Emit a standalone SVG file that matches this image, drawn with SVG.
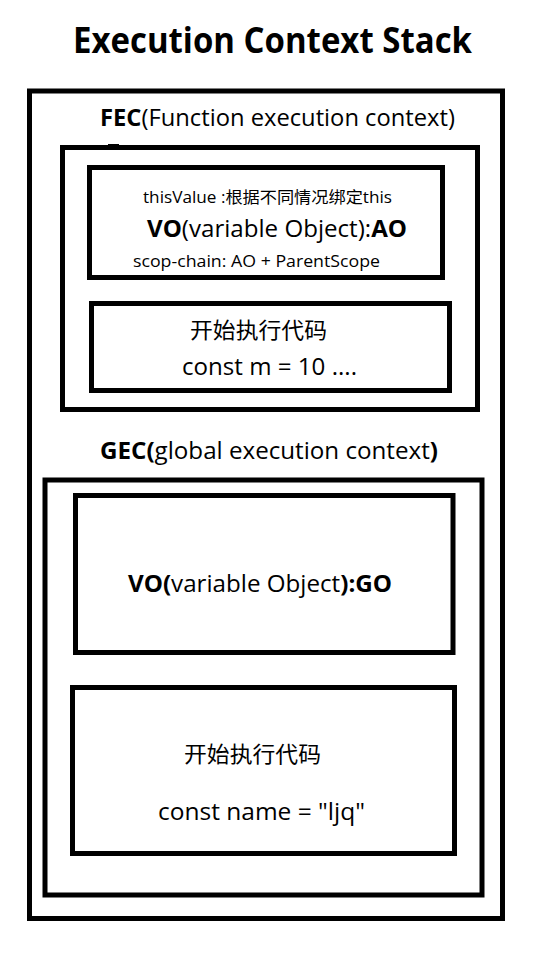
<svg xmlns="http://www.w3.org/2000/svg" width="553" height="962" viewBox="0 0 553 962">
<style>
.box{fill:none;stroke:#000;stroke-width:5}
.t{font-family:"Open Sans","Noto Sans CJK SC",sans-serif;fill:#000}
.b{font-weight:bold}
</style>
<rect width="553" height="962" fill="#fff"/>
<text class="t b" x="73" y="53" font-size="35" textLength="399" lengthAdjust="spacingAndGlyphs">Execution Context Stack</text>
<g id="stack">
<rect class="box" x="29.5" y="91" width="473" height="827.5"/>
</g>
<g id="fec">
<rect class="box" x="62.5" y="147.5" width="415" height="262"/>
<rect x="108" y="144" width="11" height="1" fill="#000"/>
<text class="t" x="100" y="126" font-size="23.5" textLength="355" lengthAdjust="spacingAndGlyphs"><tspan class="b">FEC</tspan>(Function execution context)</text>
</g>
<g id="fec-vo">
<rect class="box" x="89.5" y="167.5" width="353" height="110"/>
<text class="t" x="143" y="203" font-size="16" textLength="249" lengthAdjust="spacingAndGlyphs">thisValue :根据不同情况绑定this</text>
<text class="t" x="147" y="237" font-size="23.5" textLength="260" lengthAdjust="spacingAndGlyphs"><tspan class="b">VO</tspan>(variable Object):<tspan class="b">AO</tspan></text>
<text class="t" x="133" y="267" font-size="16" textLength="247" lengthAdjust="spacingAndGlyphs">scop-chain: AO + ParentScope</text>
</g>
<g id="fec-code">
<rect class="box" x="91.5" y="303.5" width="358" height="87"/>
<text class="t" x="190" y="338" font-size="22" textLength="137" lengthAdjust="spacingAndGlyphs">开始执行代码</text>
<text class="t" x="182" y="375" font-size="23.5" textLength="175" lengthAdjust="spacingAndGlyphs">const m = 10 ....</text>
</g>
<g id="gec">
<rect class="box" x="45" y="480" width="437" height="415"/>
<text class="t" x="100" y="459" font-size="23.5" textLength="338" lengthAdjust="spacingAndGlyphs"><tspan class="b">GEC(</tspan>global execution context<tspan class="b">)</tspan></text>
</g>
<g id="gec-vo">
<rect class="box" x="75.5" y="495.5" width="377.5" height="157"/>
<text class="t" x="128" y="592" font-size="23.5" textLength="264" lengthAdjust="spacingAndGlyphs"><tspan class="b">VO(</tspan>variable Object<tspan class="b">):GO</tspan></text>
</g>
<g id="gec-code">
<rect class="box" x="72.5" y="687.5" width="382" height="166"/>
<text class="t" x="184" y="762" font-size="22" textLength="137" lengthAdjust="spacingAndGlyphs">开始执行代码</text>
<text class="t" x="158" y="820" font-size="23.5" textLength="207" lengthAdjust="spacingAndGlyphs">const name = "ljq"</text>
</g>
<g id="connectors"/>
</svg>
